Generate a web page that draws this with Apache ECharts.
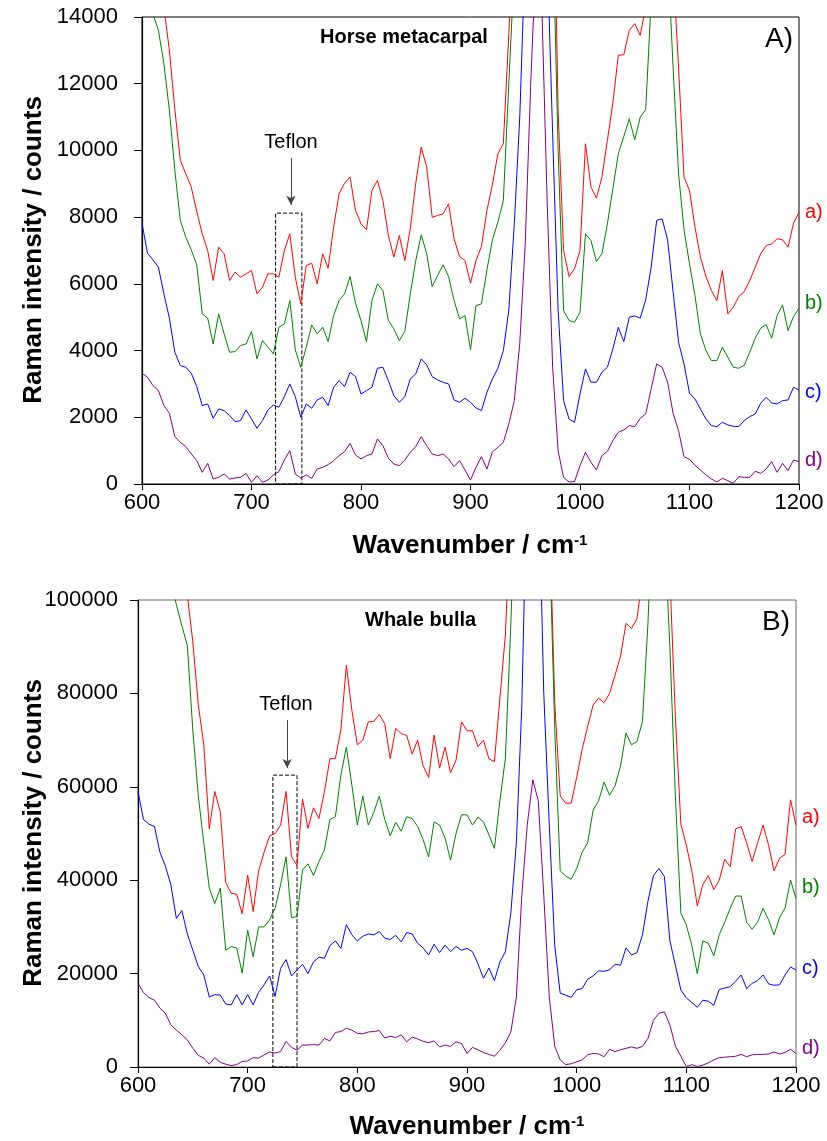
<!DOCTYPE html>
<html>
<head>
<meta charset="utf-8">
<script src="https://cdn.jsdelivr.net/npm/echarts@6/dist/echarts.min.js"></script>
<style>
  html, body { margin: 0; padding: 0; background: #fff; }
  #chart { width: 827px; height: 1141px; }
</style>
</head>
<body>
<div id="chart"></div>
<script>
// wavenumber grid (cm-1), one reading every 5 cm-1
var wavenumbers = [];
for (var w = 600; w <= 1200; w += 5) { wavenumbers.push(w); }

// A) Horse metacarpal
var horseA = [20000,18500,17000,15500,14300,13000,11220,9700,9300,8900,
  8170,7500,7000,6100,7100,6900,6100,6350,6200,6300,
  6400,5700,5900,6300,6300,6200,7000,7500,6200,5400,
  6550,6620,6000,6900,6470,7700,8700,9020,9200,8200,
  7800,7620,8800,9100,8500,7450,6800,7450,6700,7650,
  9020,10100,9500,8000,8050,8100,8400,7350,6820,6700,
  6020,6700,7120,8200,8970,9900,10200,13500,17000,25000,
  40000,60000,70000,60000,38000,20000,11200,7000,6220,6450,
  7000,10200,8900,8570,9200,10300,11420,12850,12870,13600,
  13800,13450,14300,16500,19000,21000,19000,15500,12500,9200,
  8800,7700,6800,6220,5800,5500,6400,5100,5300,5620,
  5770,6100,6500,6900,7150,7200,7350,7320,7100,7820,
  8140];
var horseB = [17500,15500,14100,13600,12600,11200,9400,7900,7400,7020,
  6570,5100,4970,4200,5100,4500,3950,3970,4150,4200,
  4570,3750,4300,4100,3900,4700,4800,5500,4020,3500,
  4100,4770,4500,4700,4270,5050,5500,5700,6220,5420,
  4900,4270,5500,6000,5800,4900,4650,4300,4570,5700,
  6700,7470,6900,5920,6250,6570,6220,5500,4950,5050,
  4020,5350,5400,6420,7320,7850,8500,12000,15500,22000,
  35000,50000,60000,50000,32000,17000,10000,5200,4900,4850,
  5150,7500,7300,6670,6900,7800,8850,9900,10420,10950,
  10320,11000,11220,14500,17000,18500,16000,12500,9300,7620,
  6600,5650,4500,4000,3700,3700,4100,3800,3500,3470,
  3560,3950,4370,4670,4780,4370,5050,5370,4600,5020,
  5270];
var horseC = [7820,6920,6720,6500,5700,4970,3950,3550,3500,3320,
  2920,2350,2400,1970,2250,2200,2050,1870,1900,2220,
  1950,1670,1900,2220,2370,2300,2620,3000,2620,2000,
  2400,2270,2520,2600,2350,2900,3100,2920,3350,3220,
  2700,2800,2900,3470,3500,3100,2650,2450,2620,3150,
  3300,3750,3570,3220,3120,3050,3000,2520,2450,2570,
  2450,2280,2200,2750,3150,3470,4000,5220,7800,11000,
  16000,30000,40000,30000,16000,10500,5220,2500,1950,1850,
  2700,3450,3050,3050,3350,3500,4050,4700,4270,5000,
  5040,4970,5520,6500,7900,7950,7320,5770,4250,3600,
  2720,2550,2250,1950,1750,1720,1850,1770,1730,1720,
  1900,2020,2100,2420,2600,2430,2400,2500,2520,2900,
  2820];
var horseD = [3320,3200,2950,2800,2350,2120,1420,1250,1120,900,
  700,350,620,150,200,300,150,180,200,320,
  50,250,50,120,270,370,720,1000,300,180,
  270,170,450,500,580,700,850,970,1220,870,
  750,850,900,1350,1150,770,600,550,720,950,
  1120,1420,1150,900,850,900,750,520,700,420,
  120,500,820,450,960,1100,1250,1800,2500,4220,
  7220,12000,16000,14500,8500,3500,1000,200,60,70,
  550,950,650,420,850,980,1300,1550,1620,1750,
  1720,1970,2100,2850,3600,3500,3050,2120,1600,820,
  740,560,420,270,150,60,170,100,20,220,
  200,200,380,320,450,670,350,620,400,720,
  670];

// B) Whale bulla
var whaleA = [150000,140000,130000,122000,115000,110000,106000,104000,103000,101000,
  91000,77500,69000,51000,59000,54700,39500,37200,37000,32800,
  41100,33300,42000,46000,49500,50000,51800,59000,45000,43200,
  57400,51100,55500,53200,59000,66000,66100,72200,86000,76400,
  69000,70000,73900,74000,75500,73500,66000,72500,71400,71000,
  67000,70000,64500,62000,71100,64000,68500,63000,65700,73900,
  72000,72000,68600,70000,66000,65400,79000,92500,120000,150000,
  200000,250000,280000,250000,180000,120000,78000,58000,56500,56500,
  62000,68000,72900,77500,79000,78000,80000,83900,88000,95000,
  93900,96000,105000,130000,150000,160000,140000,105000,75000,52000,
  47500,42000,34500,39000,41000,38000,40000,44500,42900,51000,
  51500,48000,44000,48000,51800,47500,42000,44700,45500,57200,
  51800];
var whaleB = [160000,145000,132000,122000,114000,108000,104000,99000,94500,90200,
  72000,58000,48000,38300,35000,38300,25000,25800,25500,20100,
  29300,23600,30000,30000,31500,34000,39000,45000,32000,32200,
  42200,43500,41000,44000,46500,53000,53600,62500,68500,60400,
  51800,58000,51800,54500,58000,53000,49500,52400,50500,53600,
  53200,51500,48700,45000,52500,51800,49000,44300,50000,54000,
  54000,51800,53500,52500,49700,46800,57000,66100,95000,130000,
  170000,210000,240000,210000,160000,115000,72500,42000,40900,40200,
  42500,46000,48000,55000,57000,61000,58200,60200,64500,71500,
  69000,69700,74000,95000,125000,140000,115000,90000,58000,33000,
  30400,26000,20000,27000,26500,23800,28300,31000,34000,36600,
  36600,31000,29500,31000,34000,31500,28300,32000,34000,40000,
  36100];
var whaleC = [59000,53000,52000,51500,46000,43000,39000,31800,33500,28500,
  25000,21500,19700,15000,15500,15400,13500,13300,15500,13300,
  15500,13300,16000,17600,19500,15100,21100,23000,19500,20800,
  22000,20000,22500,23500,23300,26000,27000,25400,30500,28300,
  27000,28000,28500,28300,29000,27600,27300,28200,26800,28800,
  28500,26500,25500,24000,26300,24500,26100,24700,25800,25000,
  25400,24700,22100,19000,21200,18500,22500,24700,33000,48000,
  77500,130000,170000,130000,80000,52000,26000,15800,15400,14900,
  16500,16800,18800,19500,20600,20500,20800,22000,21800,25500,
  24000,24500,28300,35500,41000,42500,40800,27000,21800,16500,
  14800,13800,12800,14300,14100,13200,16600,16900,17200,18400,
  19700,16800,17900,18500,19700,17800,17500,17600,19700,21400,
  20800];
var whaleD = [17900,15900,14900,14300,12600,11500,9000,7900,6900,5800,
  4000,2500,1900,600,2000,1000,600,300,500,1200,
  1300,2000,1900,2600,3200,3000,3300,5500,4200,3600,
  4700,4700,4800,4700,6100,5600,7400,7600,8300,7900,
  7200,7100,7500,7600,7800,6200,6600,6300,6900,5400,
  6400,6000,5500,5200,5600,4300,4700,4400,5400,5000,
  2900,4200,3700,3100,2700,2300,3600,5200,7500,15000,
  36800,52000,61500,57000,36800,15000,4500,1500,500,700,
  1100,1500,2600,2900,2800,2200,3800,3300,3700,4000,
  4300,4000,4400,6100,10000,11500,11800,9000,4500,2300,
  100,500,100,400,900,1500,2000,2100,2200,2300,
  2700,2200,2600,2700,2700,2800,3200,2800,3100,3800,
  2900];

var seriesNames = ['a)', 'b)', 'c)', 'd)'];
var seriesColors = ['#ff0000', '#008000', '#0000ff', '#800080'];

// Teflon box and arrow, in data units (wavenumber, counts)
var teflonTop = {box: [[722, 0], [746, 8120]], arrow: [[736, 9770], [736, 8370]]};
var teflonBottom = {box: [[723, 0], [745, 62500]], arrow: [[736, 74300], [736, 64000]]};

function pairs(values) {
    return wavenumbers.map(function (w, i) { return [w, values[i]]; });
}

var font = '"Liberation Sans", Arial, sans-serif';

// plain numbers on the axes, no thousands separator
function plain(v) { return String(v); }

function xAxisFor(gridIndex) {
    return {
        type: 'value', gridIndex: gridIndex,
        min: 600, max: 1200, interval: 100,
        axisLine: {show: true, onZero: false, lineStyle: {color: '#000', width: 1.2}},
        axisTick: {show: true, inside: false, length: 6, lineStyle: {color: '#000'}},
        axisLabel: {fontSize: 22, color: '#000', fontFamily: font, margin: 8, formatter: plain},
        splitLine: {show: false}
    };
}

function yAxisFor(gridIndex, max, interval, margin) {
    return {
        type: 'value', gridIndex: gridIndex,
        min: 0, max: max, interval: interval,
        axisLine: {show: true, lineStyle: {color: '#000', width: 1.2}},
        axisTick: {show: true, inside: false, length: 8, lineStyle: {color: '#000'}},
        axisLabel: {fontSize: 22, color: '#000', fontFamily: font, margin: margin, formatter: plain},
        splitLine: {show: false}
    };
}

function lineSeries(panel, k, values) {
    return {
        name: seriesNames[k], type: 'line',
        xAxisIndex: panel, yAxisIndex: panel,
        data: pairs(values),
        showSymbol: false, clip: true, silent: true,
        lineStyle: {color: seriesColors[k], width: 1},
        itemStyle: {color: seriesColors[k]}
    };
}

function addTeflon(s, t) {
    s.markArea = {
        silent: true,
        label: {show: false},
        itemStyle: {color: 'rgba(0,0,0,0)', borderColor: '#000', borderWidth: 1, borderType: 'dashed'},
        data: [[{coord: t.box[0]}, {coord: t.box[1]}]]
    };
    s.markLine = {
        silent: true,
        symbol: ['none', 'arrow'],
        symbolSize: [7, 9],
        label: {show: false},
        lineStyle: {color: '#444', width: 1, type: 'solid'},
        data: [[{coord: t.arrow[0]}, {coord: t.arrow[1]}]]
    };
    return s;
}

var topSeries = [horseA, horseB, horseC, horseD].map(function (v, k) { return lineSeries(0, k, v); });
var bottomSeries = [whaleA, whaleB, whaleC, whaleD].map(function (v, k) { return lineSeries(1, k, v); });
addTeflon(topSeries[3], teflonTop);
addTeflon(bottomSeries[3], teflonBottom);

function txt(text, x, y, size, opts) {
    opts = opts || {};
    return {
        type: 'text', x: x, y: y, rotation: opts.rotation || 0, silent: true,
        style: {
            text: text, fill: opts.color || '#000',
            fontSize: size, fontWeight: opts.bold ? 'bold' : 'normal', fontFamily: font,
            align: opts.align || 'left', verticalAlign: 'middle',
            rich: opts.rich
        }
    };
}

var supRich = {
    a: {fontSize: 26, fontWeight: 'bold', fontFamily: font, fill: '#000'},
    s: {fontSize: 15, fontWeight: 'bold', fontFamily: font, fill: '#000', verticalAlign: 'top'}
};

var sideTop = [212, 303, 392, 460];
var sideBottom = [817, 887, 968, 1048];
var graphics = [
    txt('Horse metacarpal', 320, 37, 20, {bold: true}),
    txt('A)', 765, 39, 28),
    txt('Whale bulla', 365, 620, 20, {bold: true}),
    txt('B)', 762, 622, 28),
    txt('Teflon', 291, 142, 20, {align: 'center'}),
    txt('Teflon', 286, 704, 20, {align: 'center'}),
    txt('Raman intensity / counts', 34, 250, 26, {bold: true, align: 'center', rotation: Math.PI / 2}),
    txt('Raman intensity / counts', 34, 833, 26, {bold: true, align: 'center', rotation: Math.PI / 2}),
    txt('{a|Wavenumber / cm}{s|-1}', 470, 546, 26, {bold: true, align: 'center', rich: supRich}),
    txt('{a|Wavenumber / cm}{s|-1}', 467, 1127, 26, {bold: true, align: 'center', rich: supRich})
];
seriesNames.forEach(function (n, k) {
    graphics.push(txt(n, 805, sideTop[k], 20, {color: seriesColors[k]}));
    graphics.push(txt(n, 802, sideBottom[k], 20, {color: seriesColors[k]}));
});

var option = {
    animation: false,
    backgroundColor: '#fff',
    grid: [
        {left: 142, top: 17, width: 657, height: 467, show: true, borderColor: '#000', borderWidth: 1},
        {left: 138, top: 600, width: 658, height: 467, show: true, borderColor: '#666', borderWidth: 1}
    ],
    xAxis: [xAxisFor(0), xAxisFor(1)],
    yAxis: [yAxisFor(0, 14000, 2000, 24), yAxisFor(1, 100000, 20000, 20)],
    series: topSeries.concat(bottomSeries),
    graphic: graphics
};

var myChart = echarts.init(document.getElementById('chart'), null, {renderer: 'canvas'});
myChart.setOption(option);
</script>
</body>
</html>
